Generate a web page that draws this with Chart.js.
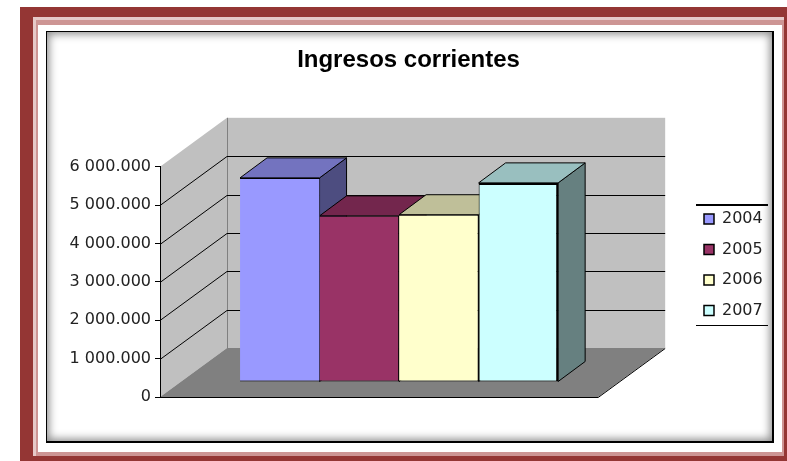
<!DOCTYPE html>
<html>
<head>
<meta charset="utf-8">
<title>Ingresos corrientes</title>
<script src="https://cdn.jsdelivr.net/npm/chart.js@4/dist/chart.umd.min.js"></script>
<style>
    html, body { margin: 0; padding: 0; background: #fff; overflow: hidden; }
    body { width: 787px; height: 461px; position: relative; }
    .band { position: absolute; box-sizing: border-box; }
    #red { left: 20px; top: 7px; width: 767px; height: 454px; background: #943634; }
    #pale { left: 33px; top: 17px; width: 751px; height: 439px; background: #e6c9c8; }
    #pink { left: 36px; top: 20px; width: 748px; height: 436px; background: #cd9594; }
    #white { left: 38px; top: 25px; width: 744px; height: 427px; background: #fff; }
    #panel { left: 46px; top: 31px; width: 728px; height: 412px; background: #fff; border: 1px solid #000; border-bottom-width: 2px; border-right-width: 2px; box-shadow: inset 0 0 9px 2px #8a8a8a; }
    canvas { position: absolute; left: 0; top: 0; }
</style>
</head>
<body>
<div class="band" id="red"></div>
<div class="band" id="pale"></div>
<div class="band" id="pink"></div>
<div class="band" id="white"></div>
<div class="band" id="panel"></div>
<canvas id="ingresosChart" width="787" height="461"></canvas>
<script>
const categories = ['Ingresos corrientes'];
const years = ['2004', '2005', '2006', '2007'];
const values2004 = [5320000];
const values2005 = [4330000];
const values2006 = [4360000];
const values2007 = [5190000];
const tickLabels = ['0', '1 000.000', '2 000.000', '3 000.000', '4 000.000', '5 000.000', '6 000.000'];

const seriesValues = [values2004, values2005, values2006, values2007];
const frontColors = ['#9999FF', '#993366', '#FFFFCC', '#CCFFFF'];
const topColors = ['#7373BF', '#73264D', '#BFBF99', '#99BFBF'];
const sideColors = ['#4D4D80', '#4D1933', '#808066', '#668080'];
const barBorders = [
    { top: 1, bottom: 1, left: 0, right: 0 },
    { top: 1, bottom: 1, left: 0, right: 1 },
    { top: 1, bottom: 1, left: 0, right: 1 },
    { top: 2, bottom: 1, left: 1, right: 2 }
];

// perspective offsets of the fake 3d box
const depthX = 67;
const depthY = 49;
const barShiftX = 20;
const barShiftY = 15;
const barDepthX = 27;
const barDepthY = 20;

const fillPoly = (ctx, points, fill, stroke) => {
    ctx.beginPath();
    points.forEach((p, i) => i ? ctx.lineTo(p[0], p[1]) : ctx.moveTo(p[0], p[1]));
    ctx.closePath();
    ctx.fillStyle = fill;
    ctx.fill();
    if (stroke) {
        ctx.strokeStyle = stroke;
        ctx.lineWidth = 1;
        ctx.stroke();
    }
};

const box3d = {
    id: 'box3d',
    afterLayout(chart) {
        const legend = chart.legend;
        const w = legend.width;
        const h = legend.height;
        legend.left = 689.5;
        legend.right = legend.left + w;
        legend.top = 196.5;
        legend.bottom = legend.top + h;
        // the axis box is narrow so the title centres right, but labels get clipped to it
        chart.scales.y.left = 50;
    },
    beforeDraw(chart) {
        const ctx = chart.ctx;
        const { left, right, top, bottom } = chart.chartArea;
        const y = chart.scales.y;
        ctx.save();
        // side wall, back wall, floor
        fillPoly(ctx, [[left, top], [left + depthX, top - depthY], [left + depthX, bottom - depthY], [left, bottom]], '#C0C0C0');
        ctx.fillStyle = '#C0C0C0';
        ctx.fillRect(left + depthX, top - depthY, right - left, bottom - top);
        fillPoly(ctx, [[left, bottom], [right, bottom], [right + depthX, bottom - depthY], [left + depthX, bottom - depthY]], '#808080');
        ctx.strokeStyle = '#808080';
        ctx.lineWidth = 1;
        ctx.beginPath();
        ctx.moveTo(left + depthX + 0.5, top - depthY);
        ctx.lineTo(left + depthX + 0.5, bottom - depthY);
        ctx.stroke();
        // gridlines on both walls
        ctx.strokeStyle = '#000';
        y.ticks.forEach(t => {
            const py = Math.round(y.getPixelForValue(t.value));
            if (t.value === 0 || t.value === 6000000) return;
            ctx.beginPath();
            ctx.moveTo(left, py + 0.5);
            ctx.lineTo(left + depthX, py - depthY + 0.5);
            ctx.lineTo(right + depthX, py - depthY + 0.5);
            ctx.stroke();
        });
        // front edge of the floor
        ctx.beginPath();
        ctx.moveTo(left, bottom + 0.5);
        ctx.lineTo(right, bottom + 0.5);
        ctx.lineTo(right + depthX, bottom - depthY + 0.5);
        ctx.stroke();
        ctx.restore();
    },
    beforeDatasetsDraw(chart) {
        const ctx = chart.ctx;
        ctx.save();
        seriesValues.forEach((v, i) => {
            const bar = chart.getDatasetMeta(i).data[0];
            const half = bar.width / 2;
            const x0 = bar.x - half + barShiftX;
            const x1 = bar.x + half + barShiftX;
            const yTop = bar.y - barShiftY;
            const yBase = bar.base - barShiftY;
            fillPoly(ctx, [[x1, yTop], [x1 + barDepthX, yTop - barDepthY], [x1 + barDepthX, yBase - barDepthY], [x1, yBase]], sideColors[i], '#000');
            fillPoly(ctx, [[x0, yTop], [x1, yTop], [x1 + barDepthX, yTop - barDepthY], [x0 + barDepthX, yTop - barDepthY]], topColors[i], '#000');
        });
        ctx.restore();
        ctx.save();
        ctx.translate(barShiftX, -barShiftY);
    },
    afterDatasetsDraw(chart) {
        const ctx = chart.ctx;
        ctx.restore();
        // legend frame only has top and bottom rules
        ctx.save();
        ctx.fillStyle = '#000';
        ctx.fillRect(696, 204, 72, 2);
        ctx.fillRect(696, 325, 72, 1);
        ctx.restore();
    }
};

const ctx = document.getElementById('ingresosChart').getContext('2d');
new Chart(ctx, {
    type: 'bar',
    data: {
        labels: categories,
        datasets: years.map((year, i) => ({
            label: year,
            data: seriesValues[i],
            backgroundColor: frontColors[i],
            borderColor: '#000',
            borderWidth: barBorders[i],
            borderSkipped: false,
            categoryPercentage: 0.726,
            barPercentage: 1,
            clip: false
        }))
    },
    plugins: [box3d],
    options: {
        responsive: false,
        animation: false,
        layout: { padding: { left: 135.6, right: 105.6, top: 0, bottom: 64 } },
        plugins: {
            tooltip: { enabled: false },
            title: {
                display: true,
                text: 'Ingresos corrientes',
                color: '#000',
                font: { family: 'Liberation Sans', size: 24, weight: 'bold' },
                padding: { top: 46, bottom: 92 }
            },
            legend: {
                position: 'right',
                align: 'start',
                labels: {
                    boxWidth: 10,
                    boxHeight: 10,
                    padding: 14.5,
                    color: '#222',
                    font: { family: 'DejaVu Sans', size: 16 },
                    generateLabels: chart => Chart.defaults.plugins.legend.labels.generateLabels(chart)
                        .map(item => ({ ...item, lineWidth: 1.5 }))
                }
            }
        },
        scales: {
            x: { display: false, grid: { display: false } },
            y: {
                min: 0,
                max: 6000000,
                afterFit: s => { s.width = 24.4; },
                border: { color: '#000' },
                grid: { drawOnChartArea: false, color: '#000', tickLength: 5 },
                ticks: {
                    stepSize: 1000000,
                    padding: 4,
                    color: '#222',
                    font: { family: 'DejaVu Sans', size: 16 },
                    callback: (value, index) => tickLabels[index]
                }
            }
        }
    }
});
</script>
</body>
</html>
